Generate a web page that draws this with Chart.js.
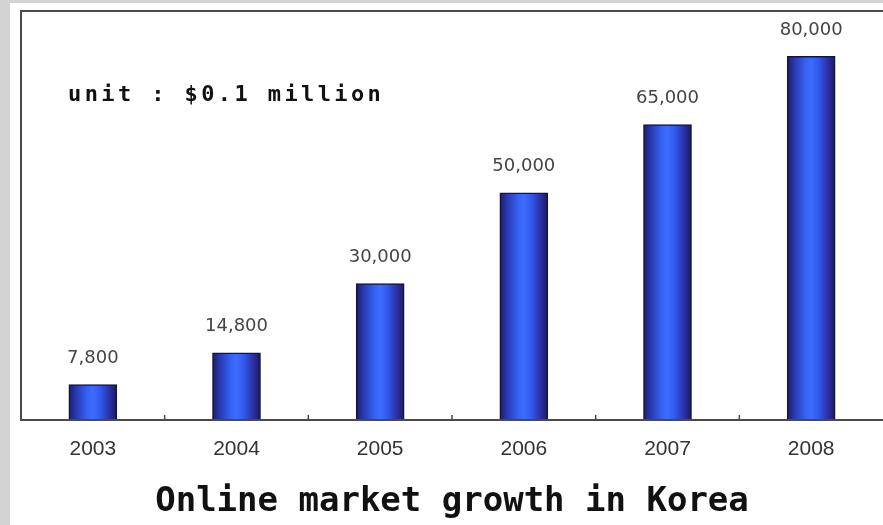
<!DOCTYPE html>
<html lang="en">
<head>
  <meta charset="UTF-8">
  <title>Online market growth in Korea</title>
  <script src="https://cdn.jsdelivr.net/npm/chart.js"></script>
  <style>
    html, body { margin: 0; padding: 0; }
    body { background: #d3d3d3; width: 883px; height: 525px; overflow: hidden; position: relative; }
    .panel { position: absolute; left: 10px; top: 3px; width: 873px; height: 522px; background: #fff; }
  </style>
</head>
<body>
<div class="panel">
  <canvas id="growthChart" width="873" height="522"></canvas>
</div>
<script>
    // years on the x axis
    const years = ["2003", "2004", "2005", "2006", "2007", "2008"];
    // market size, unit $0.1 million
    const marketSize = [7800, 14800, 30000, 50000, 65000, 80000];
    const yMax = 90000;
    const unitNote = "unit : $0.1 million";
    const chartTitle = "Online market growth in Korea";

    // blue bar with dark edges, bright middle
    function barGradient(context) {
        const chart = context.chart;
        const xScale = chart.scales.x;
        if (!chart.chartArea || !xScale) return '#3a66f5';
        const cx = xScale.getPixelForValue(context.dataIndex);
        const g = chart.ctx.createLinearGradient(cx - 24, 0, cx + 24, 0);
        g.addColorStop(0, '#1c1c66');
        g.addColorStop(0.15, '#2a38b0');
        g.addColorStop(0.38, '#3462f2');
        g.addColorStop(0.5, '#3d6cff');
        g.addColorStop(0.66, '#3158ec');
        g.addColorStop(0.86, '#2a2ea0');
        g.addColorStop(1, '#1a1a5e');
        return g;
    }

    // frame, small ticks between years, value labels and unit note
    const decorations = {
        id: 'decorations',
        afterDatasetsDraw(chart) {
            const ctx = chart.ctx;
            const area = chart.chartArea;
            const xScale = chart.scales.x;
            ctx.save();

            // left and top frame + baseline
            ctx.strokeStyle = '#4a4a4a';
            ctx.lineWidth = 2;
            ctx.beginPath();
            ctx.moveTo(area.right, area.top);
            ctx.lineTo(area.left, area.top);
            ctx.lineTo(area.left, area.bottom);
            ctx.lineTo(area.right, area.bottom);
            ctx.stroke();

            // small upward ticks between categories
            ctx.lineWidth = 1.5;
            for (let i = 1; i < years.length; i++) {
                const tx = xScale.getPixelForValue(i - 0.5);
                ctx.beginPath();
                ctx.moveTo(tx, area.bottom);
                ctx.lineTo(tx, area.bottom - 5);
                ctx.stroke();
            }

            // value labels above bars
            ctx.fillStyle = '#444';
            ctx.font = '18px "DejaVu Sans", sans-serif';
            ctx.textAlign = 'center';
            ctx.textBaseline = 'middle';
            chart.getDatasetMeta(0).data.forEach((bar, i) => {
                ctx.fillText(marketSize[i].toLocaleString('en-US'), bar.x, bar.y - 26);
            });

            // unit note
            ctx.fillStyle = '#111';
            ctx.font = 'bold 22px "DejaVu Sans Mono", monospace';
            ctx.textAlign = 'left';
            if ('letterSpacing' in ctx) ctx.letterSpacing = '3.4px';
            ctx.fillText(unitNote, area.left + 47, area.top + 84);
            ctx.restore();
        }
    };

    const ctx = document.getElementById('growthChart').getContext('2d');
    const chart = new Chart(ctx, {
        type: 'bar',
        data: {
            labels: years,
            datasets: [{
                label: 'Online market',
                data: marketSize,
                backgroundColor: barGradient,
                borderColor: '#15153c',
                borderWidth: 1.5,
                borderSkipped: 'bottom',
                barThickness: 48
            }]
        },
        options: {
            responsive: false,
            animation: false,
            layout: { padding: { left: 11, top: 8, right: 0, bottom: 2 } },
            plugins: {
                legend: { display: false },
                tooltip: { enabled: false },
                title: {
                    display: true,
                    position: 'bottom',
                    text: chartTitle,
                    color: '#111',
                    font: { family: '"DejaVu Sans Mono", monospace', size: 34, weight: 'bold' },
                    padding: { top: 3, bottom: 0 }
                }
            },
            scales: {
                x: {
                    grid: { display: false, drawTicks: false },
                    border: { display: false },
                    ticks: {
                        color: '#333',
                        padding: 17,
                        font: { family: '"Liberation Sans", Arial, sans-serif', size: 21 }
                    }
                },
                y: {
                    display: false,
                    min: 0,
                    max: yMax
                }
            }
        },
        plugins: [decorations]
    });
</script>
</body>
</html>
